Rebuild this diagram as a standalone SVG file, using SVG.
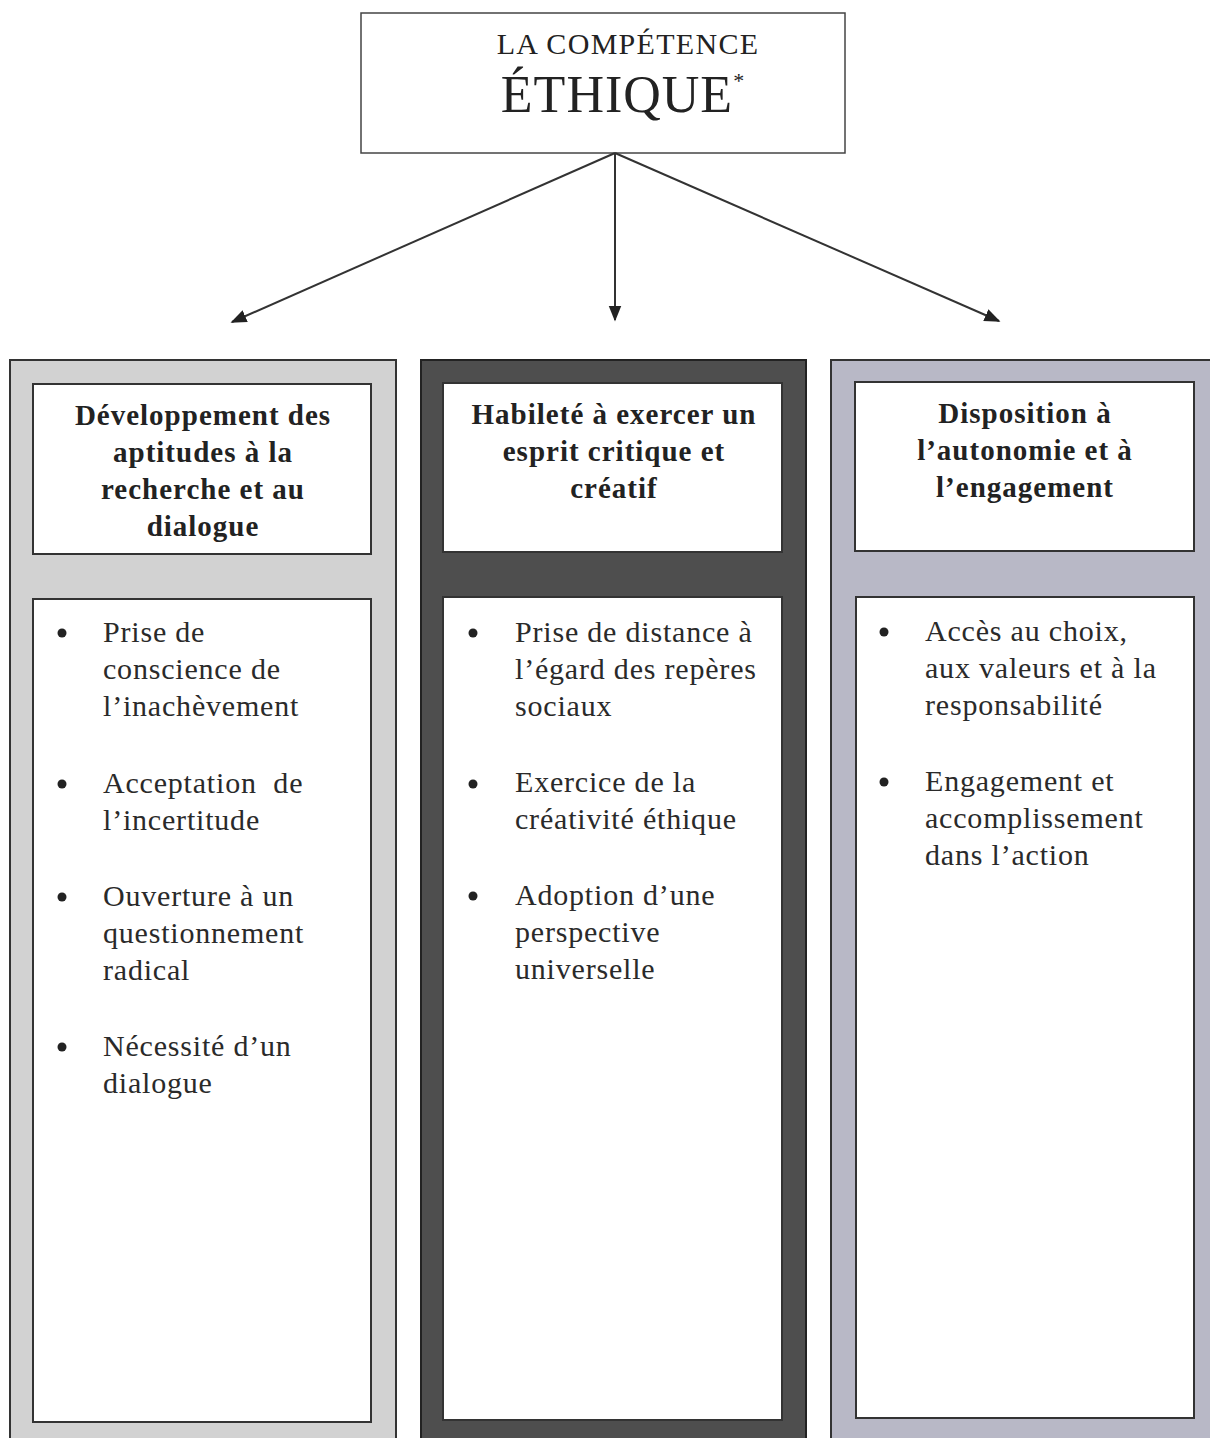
<svg xmlns="http://www.w3.org/2000/svg" width="1210" height="1438" viewBox="0 0 1210 1438">
<style>
.box{fill:#fff;stroke:#333;stroke-width:2}
.hd{font-family:"Liberation Serif",serif;font-weight:bold;font-size:29px;fill:#222;text-anchor:middle;letter-spacing:1px}
.bd{font-family:"Liberation Serif",serif;font-size:30px;fill:#2a2a2a;letter-spacing:0.8px}
.conn{stroke:#333;stroke-width:2;fill:none}
</style>
<defs>
<marker id="ah2" viewBox="0 0 10 10" refX="9" refY="5" markerWidth="16" markerHeight="16" markerUnits="userSpaceOnUse" orient="auto">
<path d="M0,1 L10,5 L0,9 z" fill="#222"/>
</marker>
</defs>
<rect width="1210" height="1438" fill="#fff"/>

<g id="top">
<rect x="361" y="13" width="484" height="140" fill="#fff" stroke="#444" stroke-width="1.5"/>
<text x="628" y="54" font-family="Liberation Serif,serif" font-size="30" fill="#222" text-anchor="middle" letter-spacing="1.3">LA COMPÉTENCE</text>
<text x="623" y="112" font-family="Liberation Serif,serif" font-size="52" fill="#222" text-anchor="middle" letter-spacing="1">ÉTHIQUE<tspan font-size="22" dy="-24">*</tspan></text>
</g>

<g id="connectors">
<line class="conn" x1="615" y1="153" x2="232" y2="322" marker-end="url(#ah2)"/>
<line class="conn" x1="615" y1="153" x2="615" y2="320" marker-end="url(#ah2)"/>
<line class="conn" x1="615" y1="153" x2="999" y2="321" marker-end="url(#ah2)"/>
</g>

<g id="col1">
<rect x="10" y="360" width="386" height="1090" fill="#d2d2d2" stroke="#333" stroke-width="2"/>
<rect x="33" y="384" width="338" height="170" class="box"/>
<text class="hd"><tspan x="203" y="425">Développement des</tspan><tspan x="203" y="462">aptitudes à la</tspan><tspan x="203" y="499">recherche et au</tspan><tspan x="203" y="536">dialogue</tspan></text>
<rect x="33" y="599" width="338" height="823" class="box"/>
<g class="bd">
<circle cx="62" cy="633" r="4.5" fill="#222"/>
<text><tspan x="103" y="642">Prise de</tspan><tspan x="103" y="679">conscience de</tspan><tspan x="103" y="716">l’inachèvement</tspan></text>
<circle cx="62" cy="784" r="4.5" fill="#222"/>
<text><tspan x="103" y="793">Acceptation&#160; de</tspan><tspan x="103" y="830">l’incertitude</tspan></text>
<circle cx="62" cy="897" r="4.5" fill="#222"/>
<text><tspan x="103" y="906">Ouverture à un</tspan><tspan x="103" y="943">questionnement</tspan><tspan x="103" y="980">radical</tspan></text>
<circle cx="62" cy="1047" r="4.5" fill="#222"/>
<text><tspan x="103" y="1056">Nécessité d’un</tspan><tspan x="103" y="1093">dialogue</tspan></text>
</g>
</g>

<g id="col2">
<rect x="421" y="360" width="385" height="1090" fill="#4e4e4e" stroke="#222" stroke-width="2"/>
<rect x="443" y="383" width="339" height="169" class="box"/>
<text class="hd"><tspan x="614" y="424">Habileté à exercer un</tspan><tspan x="614" y="461">esprit critique et</tspan><tspan x="614" y="498">créatif</tspan></text>
<rect x="443" y="597" width="339" height="823" class="box"/>
<g class="bd">
<circle cx="473" cy="633" r="4.5" fill="#222"/>
<text><tspan x="515" y="642">Prise de distance à</tspan><tspan x="515" y="679">l’égard des repères</tspan><tspan x="515" y="716">sociaux</tspan></text>
<circle cx="473" cy="784" r="4.5" fill="#222"/>
<text><tspan x="515" y="792">Exercice de la</tspan><tspan x="515" y="829">créativité éthique</tspan></text>
<circle cx="473" cy="896" r="4.5" fill="#222"/>
<text><tspan x="515" y="905">Adoption d’une</tspan><tspan x="515" y="942">perspective</tspan><tspan x="515" y="979">universelle</tspan></text>
</g>
</g>

<g id="col3">
<rect x="831" y="360" width="385" height="1090" fill="#b8b8c6" stroke="#333" stroke-width="2"/>
<rect x="855" y="382" width="339" height="169" class="box"/>
<text class="hd"><tspan x="1025" y="423">Disposition à</tspan><tspan x="1025" y="460">l’autonomie et à</tspan><tspan x="1025" y="497">l’engagement</tspan></text>
<rect x="856" y="597" width="338" height="821" class="box"/>
<g class="bd">
<circle cx="884" cy="632" r="4.5" fill="#222"/>
<text><tspan x="925" y="641">Accès au choix,</tspan><tspan x="925" y="678">aux valeurs et à la</tspan><tspan x="925" y="715">responsabilité</tspan></text>
<circle cx="884" cy="782" r="4.5" fill="#222"/>
<text><tspan x="925" y="791">Engagement et</tspan><tspan x="925" y="828">accomplissement</tspan><tspan x="925" y="865">dans l’action</tspan></text>
</g>
</g>
</svg>
